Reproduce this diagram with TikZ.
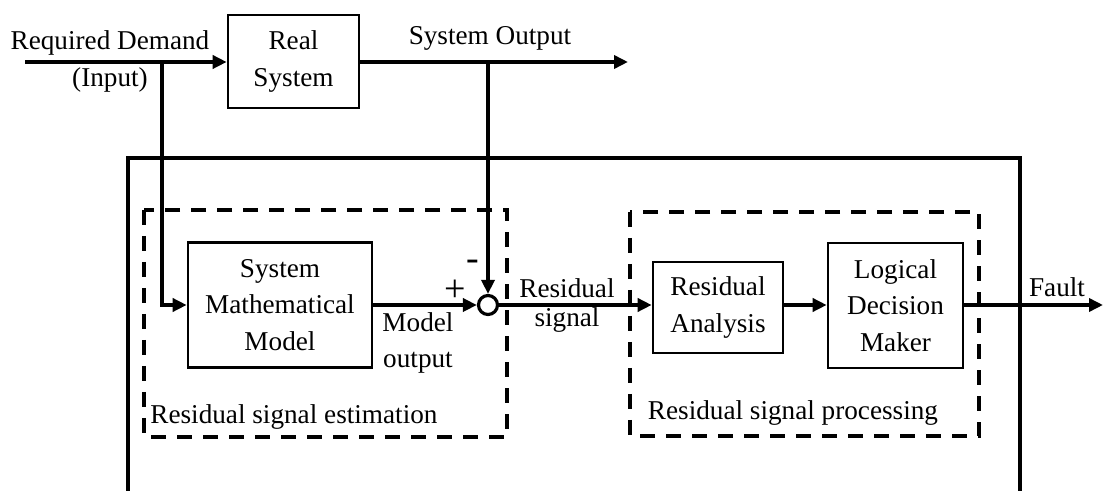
\documentclass[tikz,border=0pt]{standalone}
\usepackage{fontspec}
\setmainfont{Liberation Serif}
\usetikzlibrary{arrows.meta}
\begin{document}
\begin{tikzpicture}[x=0.5pt,y=-0.5pt,
  every node/.style={font=\fontsize{13.6}{18.3}\selectfont},
  blk/.style={draw,line width=1.3pt,align=center,inner sep=0pt},
  sig/.style={line width=1.8pt,-{Triangle[length=7pt,width=6.5pt]}},
  wire/.style={line width=1.8pt},
  grp/.style={draw,line width=1.6pt,dash pattern=on 7.5pt off 5.5pt},
  lbl/.style={inner sep=0pt}]
\useasboundingbox (0,0) rectangle (1104,491);

% blocks
\node[blk,minimum width=65.5pt,minimum height=46.5pt] (real) at (293.5,61.5) {Real\\System};
\node[blk,minimum width=92pt,minimum height=62.5pt] (smm) at (280,305) {System\\Mathematical\\Model};
\node[blk,minimum width=65pt,minimum height=45.5pt] (ra) at (718,307.5) {Residual\\Analysis};
\node[blk,minimum width=67.5pt,minimum height=62.5pt] (ldm) at (895.5,305.5) {Logical\\Decision\\Maker};
\node[draw,circle,line width=1.6pt,minimum size=9.5pt,inner sep=0pt] (sum) at (488,305) {};

% enclosing frame and dashed groups
\draw[wire] (128,491) -- (128,158) -- (1020,158) -- (1020,491);
\draw[grp] (144,210) rectangle (507,437);
\draw[grp] (630,212) rectangle (979,436);

% signal paths
\coordinate (in0) at (25,62);
\coordinate (br1) at (162,62);
\coordinate (br2) at (488,62);
\coordinate (out) at (628,62);
\coordinate (fault) at (1103,305);
\draw[sig] (in0) -- (in0 -| real.west);
\draw[sig] (br1) -- (br1 |- smm.west) -- (smm.west);
\draw[sig] (real.east |- out) -- (out);
\draw[sig] (br2) -- (sum.north);
\draw[sig] (smm.east) -- (sum.west);
\draw[sig] (sum.east) -- (sum.east -| ra.west);
\draw[sig] (sum.east -| ra.east) -- (sum.east -| ldm.west);
\draw[sig] (sum.east -| ldm.east) -- (fault);

% labels
\node[lbl] (req) at (110,43) {Required Demand};
\node[lbl] (inp) at (110,80) {(Input)};
\node[lbl] (sysout) at (490,38) {System Output};
\node[lbl,align=center] (mout) at (418,343) {Model\\output};
\node[lbl,font=\fontsize{19}{20}\selectfont] (plus) at (455,291) {+};
\node[lbl,font=\fontsize{19}{20}\selectfont] (minus) at (473,265) {-};
\node[lbl,anchor=west] (est) at (150,417) {Residual signal estimation};
\node[lbl,align=center,font=\fontsize{13.6}{14.5}\selectfont] (res) at (567,306) {Residual\\signal};
\node[lbl] (proc) at (793,413) {Residual signal processing};
\node[lbl] (flt) at (1057,287) {Fault};
\end{tikzpicture}
\end{document}
